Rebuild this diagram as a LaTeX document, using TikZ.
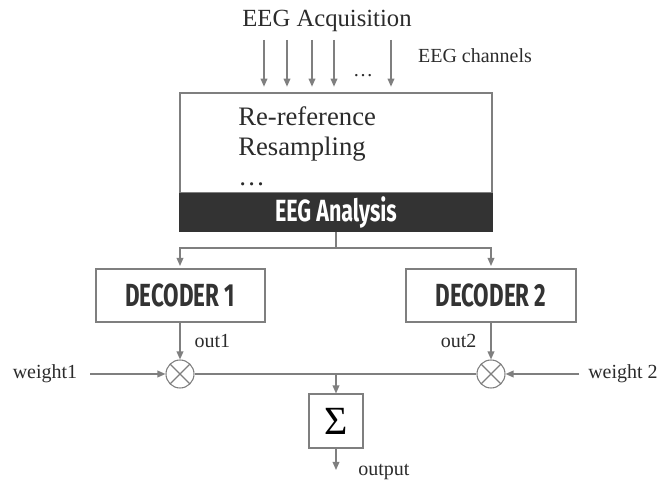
\documentclass[tikz,border=0pt]{standalone}
\usepackage{fontspec}
\setmainfont{Liberation Serif}
\newfontfamily\headfont[FakeStretch=0.7]{Fira Sans}
\usetikzlibrary{arrows.meta}
\definecolor{linegray}{HTML}{7F7F7F}
\definecolor{darkbar}{HTML}{333333}
\definecolor{inktext}{HTML}{2B2B2B}
\tikzset{
  conn/.style={draw=linegray, line width=1pt},
  arr/.style={conn, -{Triangle[length=6pt,width=5pt]}},
  blockbox/.style={draw=linegray, line width=1.5pt, minimum height=39.75pt, inner sep=0pt,
    text=darkbar, font=\headfont\bfseries\fontsize{24}{24}\selectfont},
  mult/.style={circle, draw=linegray, line width=0.8pt, minimum size=21pt, inner sep=0pt,
    path picture={\draw[linegray, line width=0.8pt]
      (path picture bounding box.north west) -- (path picture bounding box.south east)
      (path picture bounding box.north east) -- (path picture bounding box.south west);}},
  lbl/.style={text=inktext, font=\fontsize{15}{15}\selectfont, inner sep=0pt}
}
\begin{document}
\begin{tikzpicture}[x=0.75pt,y=-0.75pt]
  \useasboundingbox (0,0) rectangle (662,481);
  \node[lbl, font=\fontsize{18.5}{18.5}\selectfont] (acq) at (327,21) {EEG Acquisition};
  \node[lbl] (chan) at (475,56) {EEG channels};
  \node[lbl] (dots) at (363,76) {\ldots};
  \node[draw=linegray, line width=1.5pt, minimum width=234pt, minimum height=75pt, inner sep=0pt] (pre) at (336,143) {};
  \node[fill=darkbar, minimum width=235.5pt, minimum height=29.25pt, inner sep=0pt, text=white,
    font=\headfont\bfseries\fontsize{23}{23}\selectfont] (ana) at (336,212.5) {EEG Analysis};
  \node[lbl, font=\fontsize{20}{22.5}\selectfont, align=left, anchor=north west] (steps) at (238,106)
    {Re-reference\\Resampling\\\ldots};
  \foreach \x [count=\i] in {264,287,312,334,391} {
    \coordinate (ch\i) at (\x,40);
    \draw[arr, shorten >=4pt] (ch\i) -- (ch\i |- pre.north);
  }
  \node[blockbox, minimum width=126.75pt] (dec1) at (180,295.5) {DECODER 1};
  \node[blockbox, minimum width=127.5pt] (dec2) at (491,295.5) {DECODER 2};
  \coordinate (split) at (336,248);
  \draw[conn] (ana) -- (split);
  \draw[arr, shorten >=1.5pt] (split) -| (dec1);
  \draw[arr, shorten >=1.5pt] (split) -| (dec2);
  \node[mult] (mul1) at (180,374) {};
  \node[mult] (mul2) at (491,374) {};
  \draw[arr] (dec1) -- (mul1) node[lbl, midway, anchor=west, xshift=10.5pt] {out1};
  \draw[arr] (dec2) -- (mul2) node[lbl, midway, anchor=east, xshift=-10.5pt] {out2};
  \node[lbl] (w1) at (45,374) {weight1};
  \node[lbl] (w2) at (623,374) {weight 2};
  \draw[arr, shorten <=9.75pt] (w1) -- (mul1);
  \draw[arr, shorten <=6.75pt] (w2) -- (mul2);
  \draw[conn] (mul1) -- (mul2);
  \coordinate (join) at (336,374);
  \node[draw=linegray, line width=1.5pt, minimum size=40.5pt, inner sep=0pt] (sum) at (336,421.5)
    {\fontsize{30}{30}\selectfont Σ};
  \draw[arr] (join) -- (sum);
  \coordinate (out) at (336,470);
  \draw[arr] (sum) -- (out);
  \node[lbl, anchor=base west] (outlbl) at (358,476) {output};
\end{tikzpicture}
\end{document}
